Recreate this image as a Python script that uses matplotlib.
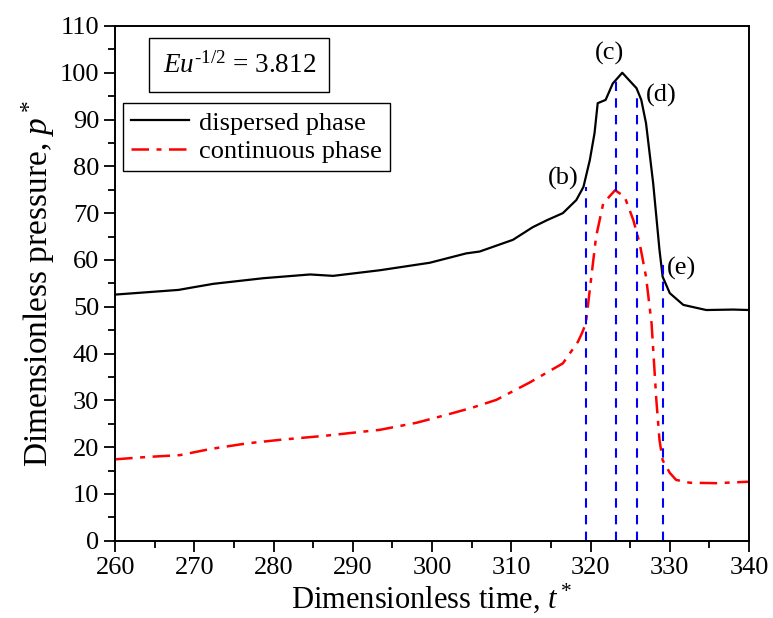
import numpy as np
import matplotlib.pyplot as plt

plt.rcParams['font.family'] = 'Liberation Serif'
plt.rcParams['mathtext.fontset'] = 'custom'
plt.rcParams['mathtext.rm'] = 'Liberation Serif'
plt.rcParams['mathtext.it'] = 'Liberation Serif:italic'

# dispersed phase pressure
t_disp = [260, 264, 268, 270, 272.4, 278.7, 284.6, 287.5, 293.4, 299.7, 304.3, 306,
          310.2, 312.7, 314.5, 316.5, 318.2, 319.1, 319.9, 320.5, 320.9, 321.9, 322.8,
          324.0, 325.8, 326.4, 327.0, 327.9, 328.7, 329.1, 330.0, 331.7, 334.6, 338.0, 340]
p_disp = [52.6, 53.1, 53.6, 54.2, 54.9, 56.1, 56.9, 56.6, 57.8, 59.4, 61.4, 61.8,
          64.3, 67.0, 68.5, 70.0, 72.8, 75.6, 81.3, 87.1, 93.5, 94.2, 97.7,
          100.0, 96.7, 94.2, 89.2, 76.4, 62.1, 56.4, 52.9, 50.4, 49.3, 49.4, 49.3]

# continuous phase pressure
t_cont = [260, 264, 268.2, 272, 276.6, 281, 286.3, 293.4, 298, 301.8, 305, 308.1,
          312.3, 316.5, 318.4, 318.9, 319.4, 319.9, 320.7, 321.6, 323.1, 324.3, 325.4,
          326.2, 327.0, 327.7, 328.3, 328.7, 329.1, 330.0, 330.8, 332.5, 335.9, 339.8, 340]
p_cont = [17.4, 17.9, 18.3, 19.6, 20.8, 21.6, 22.4, 23.7, 25.2, 26.9, 28.4, 30.1,
          33.8, 37.9, 42.5, 44.3, 46.4, 53.6, 65.0, 72.1, 74.9, 73.5, 68.5,
          63.5, 56.4, 46.4, 30.1, 21.5, 17.2, 14.5, 13.0, 12.4, 12.3, 12.6, 12.6]

# instants (b)-(e)
snap_t = [319.4, 323.2, 325.8, 329.1]
snap_top = [75.6, 98.9, 94.9, 60.4]
snap_lbl = ['(b)', '(c)', '(d)', '(e)']
lbl_x = [316.5, 322.4, 328.9, 331.5]
lbl_y = [77.4, 104.1, 95.2, 58.2]

fig = plt.figure(figsize=(7.73, 6.18), dpi=100)
ax = fig.add_axes([0.149, 0.125, 0.820, 0.833])

ax.plot(t_disp, p_disp, color='black', lw=1.6, label='dispersed phase')
ax.plot(t_cont, p_cont, color='red', lw=1.8, dashes=(7, 3, 2, 3), label='continuous phase')

for x, top in zip(snap_t, snap_top):
    ax.plot([x, x], [0, top], color='blue', lw=1.5, dashes=(4.5, 3.5))
for s, x, y in zip(snap_lbl, lbl_x, lbl_y):
    ax.text(x, y, s, fontsize=19, ha='center', va='center')

ax.set_xlim(260, 340)
ax.set_ylim(0, 110)
ax.set_xticks(np.arange(260, 341, 10))
ax.set_yticks(np.arange(0, 111, 10))
ax.set_xticks(np.arange(265, 340, 10), minor=True)
ax.set_yticks(np.arange(5, 110, 10), minor=True)
ax.tick_params(which='major', direction='out', length=8, width=1.3, labelsize=19,
               top=False, right=False)
ax.tick_params(which='minor', direction='out', length=5, width=1.3, top=False, right=False)
for sp in ax.spines.values():
    sp.set_linewidth(1.4)

ax.set_xlabel(r'Dimensionless time, $t^*$', fontsize=22, labelpad=2)
ax.set_ylabel(r'Dimensionless pressure, $p^*$', fontsize=24, labelpad=2)

ax.text(0.075, 0.924, r'$\mathit{Eu}^{\mathit{\text{-}1/2}}$ = 3.812', transform=ax.transAxes,
        fontsize=19.5, ha='left', va='center',
        bbox=dict(boxstyle='square,pad=0.5', fc='white', ec='black', lw=1))

leg = ax.legend(loc='upper left', bbox_to_anchor=(0.012, 0.85), fontsize=19,
                frameon=True, fancybox=False, framealpha=1, edgecolor='black',
                handlelength=2.2, borderpad=0.3, labelspacing=0.2, handletextpad=0.4,
                borderaxespad=0)
leg.get_frame().set_linewidth(1)

fig.savefig('out.png', dpi=100)
